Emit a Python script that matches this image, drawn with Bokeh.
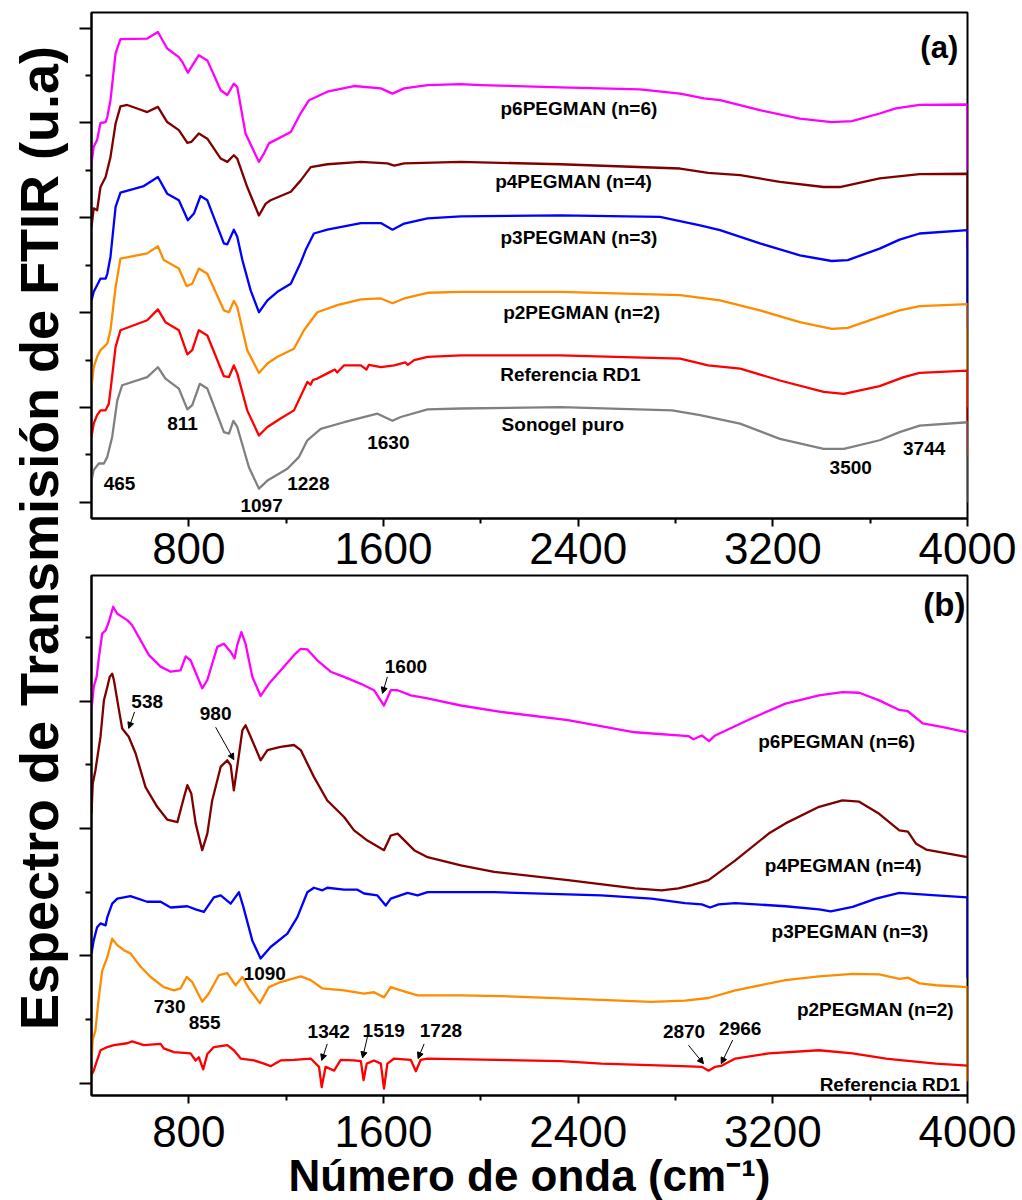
import math
from bokeh.plotting import figure
from bokeh.layouts import row, column
from bokeh.models import (ColumnDataSource, FixedTicker, CustomJSTickFormatter, Label,
                          Arrow, NormalHead, Range1d)
from bokeh.core.properties import value
from bokeh.embed import file_html
from bokeh.resources import INLINE

FONT = "Liberation Sans"

# ---------------- Panel (a) data (wavenumber cm-1, offset transmission a.u.) ----------------
a_p6_x = [400, 409, 423, 437, 458, 465, 478, 499, 519, 629, 673, 711, 759, 773, 796, 841, 876, 931, 958, 985, 999,
          1033, 1088, 1109, 1129, 1219, 1260, 1294, 1369, 1479, 1589, 1637, 1685, 1781, 1918, 1999, 2327, 2654, 2819,
          2917, 2983, 3147, 3311, 3442, 3525, 3639, 3705, 3803, 4000, 4000]
a_p6_y = [7.15, 7.50, 7.64, 8.00, 8.02, 8.13, 8.48, 9.47, 9.77, 9.78, 9.92, 9.57, 9.39, 9.29, 9.06, 9.43, 9.32, 8.69,
          8.59, 8.83, 8.76, 7.78, 7.18, 7.36, 7.57, 7.81, 8.21, 8.48, 8.66, 8.78, 8.73, 8.62, 8.73, 8.80, 8.82, 8.80,
          8.75, 8.71, 8.62, 8.52, 8.48, 8.27, 8.09, 8.02, 8.04, 8.20, 8.31, 8.38, 8.39, 7.00]

a_p4_x = [400, 409, 423, 437, 458, 478, 499, 519, 547, 602, 629, 673, 711, 759, 794, 810, 841, 876, 931, 958, 985,
          999, 1040, 1088, 1116, 1136, 1219, 1260, 1301, 1369, 1507, 1616, 1644, 1685, 1918, 2327, 2819, 2934, 3066,
          3229, 3409, 3475, 3639, 3803, 4000, 4000]
a_p4_y = [5.81, 6.20, 6.16, 6.65, 6.86, 7.28, 7.99, 8.35, 8.38, 8.28, 8.23, 8.34, 8.02, 7.85, 7.58, 7.60, 7.78, 7.67,
          7.25, 7.18, 7.32, 7.25, 6.65, 6.05, 6.30, 6.37, 6.55, 6.79, 7.07, 7.13, 7.18, 7.15, 7.10, 7.15, 7.18, 7.13,
          7.04, 6.95, 6.90, 6.76, 6.65, 6.65, 6.83, 6.92, 6.93, 5.38]

a_p3_x = [400, 409, 423, 437, 458, 465, 478, 499, 519, 615, 673, 711, 759, 796, 821, 848, 876, 944, 958, 985, 999,
          1020, 1054, 1088, 1123, 1164, 1219, 1260, 1280, 1314, 1369, 1507, 1589, 1637, 1685, 1781, 1918, 2327, 2736,
          2901, 2983, 3147, 3311, 3442, 3508, 3639, 3721, 3803, 4000, 4000]
a_p3_y = [4.26, 4.44, 4.58, 4.72, 4.72, 4.82, 5.18, 6.23, 6.53, 6.67, 6.86, 6.51, 6.37, 5.95, 6.09, 6.46, 6.37, 5.46,
          5.44, 5.75, 5.60, 5.11, 4.47, 4.01, 4.26, 4.44, 4.61, 5.06, 5.32, 5.67, 5.75, 5.89, 5.89, 5.75, 5.88, 5.99,
          6.03, 6.05, 6.02, 5.84, 5.74, 5.46, 5.21, 5.09, 5.11, 5.35, 5.54, 5.67, 5.74, 3.69]

a_p2_x = [400, 409, 423, 437, 451, 465, 478, 499, 519, 629, 673, 697, 759, 791, 814, 841, 876, 944, 965, 985, 999,
          1040, 1088, 1123, 1164, 1232, 1273, 1328, 1410, 1507, 1589, 1637, 1685, 1781, 1918, 2327, 2819, 2983, 3147,
          3311, 3442, 3508, 3639, 3721, 3803, 4000, 4000]
a_p2_y = [2.43, 2.85, 3.07, 3.21, 3.28, 3.35, 3.63, 4.54, 5.14, 5.25, 5.40, 5.11, 4.93, 4.56, 4.61, 4.93, 4.82, 4.05,
          4.01, 4.25, 4.12, 3.21, 2.73, 2.93, 3.07, 3.24, 3.63, 4.01, 4.16, 4.28, 4.30, 4.20, 4.30, 4.42, 4.44, 4.44,
          4.37, 4.26, 4.05, 3.80, 3.66, 3.68, 3.91, 4.05, 4.14, 4.18, 2.00]

a_rd1_x = [400, 409, 423, 437, 458, 471, 478, 499, 519, 629, 673, 704, 759, 794, 814, 841, 876, 944, 965, 985, 999,
           1040, 1088, 1123, 1177, 1232, 1287, 1300, 1310, 1328, 1369, 1400, 1410, 1438, 1507, 1530, 1540, 1589, 1644,
           1690, 1700, 1726, 1781, 1918, 2327, 2819, 2934, 3066, 3229, 3409, 3492, 3639, 3738, 3803, 4000, 4000]
a_rd1_y = [1.38, 1.66, 1.84, 1.94, 1.94, 2.08, 2.36, 3.28, 3.63, 3.84, 4.07, 3.80, 3.63, 3.12, 3.21, 3.63, 3.52, 2.66,
           2.64, 2.89, 2.72, 1.94, 1.41, 1.59, 1.77, 1.94, 2.54, 2.48, 2.58, 2.61, 2.72, 2.80, 2.74, 2.89, 2.89, 2.80,
           2.90, 2.85, 2.89, 2.95, 2.90, 3.00, 3.07, 3.10, 3.10, 3.03, 2.89, 2.82, 2.57, 2.33, 2.29, 2.45, 2.64, 2.73,
           2.78, 0.99]

a_sg_x = [400, 409, 430, 451, 465, 485, 506, 526, 629, 673, 704, 759, 794, 814, 845, 876, 944, 965, 983, 999, 1047,
          1088, 1123, 1205, 1253, 1287, 1342, 1438, 1575, 1637, 1671, 1781, 1918, 2327, 2786, 2901, 3065, 3229, 3409,
          3492, 3639, 3721, 3803, 4000, 4000]
a_sg_y = [0.46, 0.68, 0.82, 0.82, 0.96, 1.38, 2.15, 2.47, 2.64, 2.85, 2.61, 2.40, 1.96, 2.05, 2.50, 2.40, 1.48, 1.45,
          1.72, 1.59, 0.74, 0.29, 0.46, 0.71, 0.96, 1.31, 1.55, 1.69, 1.87, 1.72, 1.80, 1.96, 1.98, 2.01, 1.94, 1.84,
          1.66, 1.34, 1.13, 1.13, 1.31, 1.48, 1.62, 1.69, 0.00]

a_name_text = ["p6PEGMAN (n=6)", "p4PEGMAN (n=4)", "p3PEGMAN (n=3)", "p2PEGMAN (n=2)", "Referencia RD1", "Sonogel puro"]
a_name_x = [2403, 2381, 2403, 2414, 2368, 2337]
a_name_y = [8.31, 6.76, 5.58, 4.01, 2.70, 1.65]

a_peak_text = ["465", "811", "1097", "1228", "1630", "3500", "3744"]
a_peak_x = [515, 774, 1099, 1291, 1620, 3520, 3822]
a_peak_y = [0.40, 1.67, -0.06, 0.40, 1.27, 0.74, 1.13]

# ---------------- Panel (b) data ----------------
b_p6_x = [400, 409, 421, 430, 444, 458, 471, 489, 506, 547, 567, 636, 684, 725, 766, 787, 807, 855, 876, 917, 944, 972,
          988, 999, 1016, 1033, 1061, 1095, 1129, 1177, 1232, 1260, 1287, 1328, 1383, 1438, 1507, 1561, 1602, 1630,
          1658, 1712, 1781, 1918, 2082, 2358, 2633, 2853, 2874, 2908, 2938, 2963, 3114, 3252, 3390, 3486, 3555, 3637,
          3720, 3755, 3816, 3899, 4000]
b_p6_y = [5.86, 6.22, 6.38, 6.67, 7.06, 7.11, 7.24, 7.48, 7.37, 7.27, 7.19, 6.72, 6.54, 6.46, 6.48, 6.70, 6.64, 6.20,
          6.33, 6.85, 6.90, 6.77, 6.67, 6.88, 7.08, 6.90, 6.38, 6.08, 6.27, 6.48, 6.72, 6.82, 6.81, 6.64, 6.46, 6.38,
          6.27, 6.17, 5.93, 6.17, 6.17, 6.09, 6.04, 5.93, 5.83, 5.70, 5.51, 5.45, 5.40, 5.46, 5.37, 5.46, 5.73, 5.96,
          6.09, 6.14, 6.13, 6.01, 5.86, 5.84, 5.65, 5.59, 5.51]

b_p4_x = [400, 405, 416, 437, 451, 465, 475, 485, 492, 506, 526, 553, 581, 622, 670, 711, 753, 780, 794, 810, 828, 855,
          876, 896, 931, 958, 972, 985, 999, 1020, 1033, 1054, 1095, 1123, 1177, 1232, 1260, 1314, 1369, 1438, 1479,
          1534, 1602, 1630, 1658, 1726, 1781, 1918, 2055, 2358, 2633, 2743, 2812, 2867, 2936, 3046, 3183, 3252, 3390,
          3486, 3555, 3637, 3720, 3755, 3789, 3830, 4000]
b_p4_y = [4.23, 4.70, 4.91, 5.44, 6.01, 6.22, 6.38, 6.43, 6.33, 6.01, 5.57, 5.44, 5.18, 4.65, 4.34, 4.14, 4.10, 4.49,
          4.68, 4.55, 4.08, 3.66, 3.92, 4.44, 4.97, 5.07, 4.99, 4.60, 4.97, 5.54, 5.62, 5.44, 5.07, 5.23, 5.28, 5.31,
          5.23, 4.81, 4.44, 4.18, 3.97, 3.81, 3.66, 3.89, 3.92, 3.66, 3.55, 3.42, 3.32, 3.19, 3.06, 3.03, 3.06, 3.11,
          3.19, 3.50, 3.92, 4.08, 4.34, 4.44, 4.42, 4.23, 3.97, 3.95, 3.76, 3.67, 3.55]

b_p3_x = [400, 409, 423, 437, 458, 465, 485, 506, 560, 629, 684, 725, 794, 828, 862, 903, 931, 972, 1006, 1024, 1061,
          1095, 1136, 1205, 1246, 1287, 1314, 1349, 1369, 1438, 1493, 1520, 1575, 1609, 1630, 1699, 1740, 1781, 2055,
          2495, 2701, 2839, 2908, 2942, 2977, 3046, 3252, 3390, 3438, 3528, 3624, 3720, 3871, 4000, 4000]
b_p3_y = [2.04, 2.24, 2.45, 2.51, 2.48, 2.61, 2.82, 2.90, 2.94, 2.85, 2.85, 2.76, 2.78, 2.73, 2.69, 2.92, 2.95, 2.82,
          3.00, 2.77, 2.24, 1.96, 2.14, 2.35, 2.61, 3.00, 3.07, 3.03, 3.07, 3.04, 3.04, 2.98, 2.95, 2.79, 2.90, 2.99,
          2.95, 3.00, 3.00, 2.95, 2.90, 2.83, 2.81, 2.76, 2.81, 2.83, 2.78, 2.73, 2.70, 2.77, 2.90, 2.99, 2.95, 2.92,
          1.66]

b_p2_x = [400, 405, 416, 430, 444, 465, 485, 506, 533, 560, 602, 643, 697, 739, 766, 791, 814, 855, 882, 924, 958, 992,
          1020, 1047, 1092, 1129, 1177, 1260, 1301, 1349, 1438, 1520, 1561, 1602, 1630, 1671, 1740, 1918, 2082, 2495,
          2701, 2839, 2936, 3046, 3252, 3390, 3528, 3637, 3720, 3755, 3803, 3871, 4000, 4000]
b_p2_y = [0.36, 0.68, 0.83, 1.35, 1.77, 1.98, 2.27, 2.17, 2.09, 2.04, 1.83, 1.67, 1.51, 1.46, 1.49, 1.67, 1.59, 1.28,
          1.41, 1.70, 1.73, 1.54, 1.67, 1.49, 1.26, 1.51, 1.59, 1.68, 1.62, 1.49, 1.46, 1.41, 1.43, 1.35, 1.51, 1.46,
          1.38, 1.38, 1.37, 1.31, 1.28, 1.30, 1.34, 1.46, 1.62, 1.68, 1.72, 1.71, 1.64, 1.66, 1.57, 1.54, 1.51, 0.03]

b_rd1_x = [400, 409, 423, 437, 465, 492, 547, 567, 615, 684, 697, 739, 807, 828, 841, 859, 876, 903, 958, 985, 1013,
           1068, 1109, 1136, 1177, 1232, 1301, 1335, 1346, 1362, 1397, 1424, 1479, 1507, 1518, 1531, 1561, 1589, 1602,
           1616, 1644, 1712, 1733, 1753, 1781, 2329, 2495, 2826, 2908, 2936, 2963, 2991, 3046, 3183, 3390, 3528, 3665,
           3734, 3871, 4000]
b_rd1_y = [0.13, 0.20, 0.36, 0.52, 0.57, 0.60, 0.63, 0.66, 0.60, 0.62, 0.55, 0.49, 0.47, 0.36, 0.41, 0.22, 0.46, 0.57,
           0.60, 0.52, 0.39, 0.36, 0.31, 0.27, 0.36, 0.37, 0.39, 0.26, -0.06, 0.26, 0.20, 0.37, 0.36, 0.35, 0.05, 0.31,
           0.36, 0.31, -0.08, 0.31, 0.39, 0.37, 0.19, 0.37, 0.39, 0.35, 0.31, 0.27, 0.26, 0.20, 0.26, 0.28, 0.39, 0.47,
           0.52, 0.47, 0.39, 0.36, 0.31, 0.28]

b_name_text = ["p6PEGMAN (n=6)", "p4PEGMAN (n=4)", "p3PEGMAN (n=3)", "p2PEGMAN (n=2)", "Referencia RD1"]
b_name_x = [3462, 3489, 3517, 3621, 3681]
b_name_y = [5.36, 3.42, 2.38, 1.16, -0.02]

b_peak_text = ["1600", "538", "980", "1090", "730", "855", "1342", "1519", "1728", "2870", "2966"]
b_peak_x = [1692, 629, 910, 1112, 721, 865, 1375, 1601, 1836, 2835, 3066]
b_peak_y = [6.54, 6.00, 5.81, 1.73, 1.21, 0.96, 0.81, 0.83, 0.83, 0.81, 0.86]

# arrows: start (x, y) -> end (x, y)
b_arrow_x0 = [1616, 577, 910, 1369, 1534, 1767, 2853, 3035]
b_arrow_y0 = [6.38, 5.83, 5.59, 0.62, 0.73, 0.62, 0.60, 0.68]
b_arrow_x1 = [1596, 553, 985, 1346, 1514, 1742, 2915, 2988]
b_arrow_y1 = [6.12, 5.57, 5.08, 0.36, 0.40, 0.39, 0.31, 0.31]

x_major = [800, 1600, 2400, 3200, 4000]
x_minor = [1200, 2000, 2800, 3600]

C_MAG, C_MAR, C_BLU, C_ORA, C_RED, C_GRY = "#FF00FF", "#800000", "#0000FF", "#FF8C00", "#FF0000", "#808080"


def make_panel(ylo, yhi, yticks, yminor, frame_h, top_border, bottom_border, show_xlabel):
    p = figure(frame_width=876, frame_height=frame_h, x_range=Range1d(400, 4000), y_range=Range1d(ylo, yhi),
               min_border_left=23, min_border_right=50, min_border_top=top_border,
               min_border_bottom=bottom_border, toolbar_location=None, output_backend="svg")
    p.grid.visible = False
    p.outline_line_color = "black"
    p.outline_line_width = 2
    p.background_fill_color = "white"
    p.border_fill_color = "white"
    xa = p.xaxis[0]
    xa.ticker = FixedTicker(ticks=x_major, minor_ticks=x_minor)
    xa.major_tick_out = 8
    xa.major_tick_in = 0
    xa.minor_tick_out = 5
    xa.minor_tick_in = 0
    xa.axis_line_width = 2
    xa.major_tick_line_width = 2
    xa.minor_tick_line_width = 2
    xa.major_label_text_font = FONT
    xa.major_label_text_font_size = "44px"
    xa.major_label_text_color = "black"
    if show_xlabel:
        xa.major_label_standoff = 12
        xa.axis_label = "Número de onda (cm⁻¹)"
        xa.axis_label_text_font = FONT
        xa.axis_label_text_font_size = "44px"
        xa.axis_label_text_font_style = "bold"
        xa.axis_label_text_color = "black"
        xa.axis_label_standoff = 1
    else:
        xa.major_label_standoff = 6
    ya = p.yaxis[0]
    ya.ticker = FixedTicker(ticks=yticks, minor_ticks=yminor)
    ya.formatter = CustomJSTickFormatter(code="return ''")
    ya.major_tick_out = 12
    ya.major_tick_in = 0
    ya.minor_tick_out = 6
    ya.minor_tick_in = 0
    ya.axis_line_width = 2
    ya.major_tick_line_width = 2
    ya.minor_tick_line_width = 2
    ya.major_label_standoff = 0
    return p


def add_line(p, xs, ys, color):
    p.line(xs, ys, line_color=color, line_width=2.3, line_join="round")


def add_texts(p, xs, ys, texts, size):
    src = ColumnDataSource(dict(x=xs, y=ys, text=texts))
    p.text(x="x", y="y", text="text", source=src, text_font=value(FONT), text_font_size=size,
           text_font_style="bold", text_align="center", text_baseline="middle", text_color="black")


# ---- panel (a) ----
pa = make_panel(-0.34, 10.33, [0, 2, 4, 6, 8, 10], [1, 3, 5, 7, 9], 506, 12, 56, False)
for xs, ys, c in [(a_p6_x, a_p6_y, C_MAG), (a_p4_x, a_p4_y, C_MAR), (a_p3_x, a_p3_y, C_BLU),
                  (a_p2_x, a_p2_y, C_ORA), (a_rd1_x, a_rd1_y, C_RED), (a_sg_x, a_sg_y, C_GRY)]:
    add_line(pa, xs, ys, c)
add_texts(pa, a_name_x, a_name_y, a_name_text, "19px")
add_texts(pa, a_peak_x, a_peak_y, a_peak_text, "19px")
add_texts(pa, [3884], [9.59], ["(a)"], "31px")

# ---- panel (b) ----
pb = make_panel(-0.19, 7.97, [0, 2, 4, 6], [1, 3, 5, 7], 520, 1, 105, True)
for xs, ys, c in [(b_p6_x, b_p6_y, C_MAG), (b_p4_x, b_p4_y, C_MAR), (b_p3_x, b_p3_y, C_BLU),
                  (b_p2_x, b_p2_y, C_ORA), (b_rd1_x, b_rd1_y, C_RED)]:
    add_line(pb, xs, ys, c)
add_texts(pb, b_name_x, b_name_y, b_name_text, "19px")
add_texts(pb, b_peak_x, b_peak_y, b_peak_text, "19px")
add_texts(pb, [3905], [7.52], ["(b)"], "33px")
for x0, y0, x1, y1 in zip(b_arrow_x0, b_arrow_y0, b_arrow_x1, b_arrow_y1):
    pb.add_layout(Arrow(end=NormalHead(size=6, fill_color="black", line_color="black", line_width=1),
                        x_start=x0, y_start=y0, x_end=x1, y_end=y1, line_color="black", line_width=1))

# ---- shared y title ----
TW, TH = 68, 1200
tf = figure(width=TW, height=TH, x_range=Range1d(0, TW), y_range=Range1d(0, TH), min_border=0,
            toolbar_location=None, output_backend="svg")
tf.axis.visible = False
tf.grid.visible = False
tf.outline_line_color = None
tf.background_fill_color = "white"
tf.border_fill_color = "white"
tf.add_layout(Label(x=38, y=TH - 530, text="Espectro de Transmisión de  FTIR (u.a)", angle=math.pi / 2,
                    text_align="center", text_baseline="middle", text_font=FONT,
                    text_font_size="54px", text_font_style="bold", text_color="black"))

layout = row(tf, column(pa, pb))
open("out.html", "w").write(file_html(layout, INLINE))
